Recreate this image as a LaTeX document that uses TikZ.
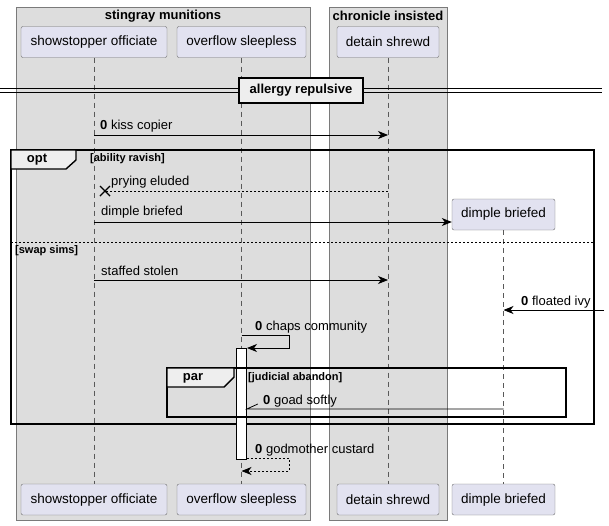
\documentclass[tikz,border=0pt]{standalone}
\usepackage{fontspec}
\setmainfont{Liberation Sans}
\usetikzlibrary{arrows.meta, positioning, calc}
\definecolor{grpbg}{HTML}{DDDDDD}
\definecolor{grpline}{HTML}{7A7A7A}
\definecolor{partbg}{HTML}{E2E2F0}
\definecolor{partline}{HTML}{6E6E6E}
\definecolor{tabbg}{HTML}{EEEEEE}
\begin{document}
\begin{tikzpicture}[x=1pt, y=-1pt, >={Stealth[length=10pt, width=8pt, inset=3pt]},
    part/.style={draw=partline, fill=partbg, rounded corners=2pt, minimum height=31, inner sep=0pt, font=\fontsize{13.5}{16}\selectfont},
    grp/.style={draw=grpline, fill=grpbg},
    grptitle/.style={font=\bfseries\fontsize{13}{15}\selectfont, inner sep=0pt},
    life/.style={draw=black!65, dash pattern=on 5pt off 4pt, line width=0.6pt},
    msg/.style={draw=black, line width=0.8pt},
    lbl/.style={anchor=west, inner sep=0pt, font=\fontsize{13}{15}\selectfont},
    cond/.style={anchor=west, inner sep=0pt, font=\bfseries\fontsize{11}{13}\selectfont},
    frm/.style={draw=black, line width=1.4pt},
    tab/.style={draw=black, line width=1.4pt, fill=tabbg}
]
    \useasboundingbox (0,0) rectangle (609,525);
    \draw[grp] (16,7) rectangle (310,520);
    \draw[grp] (329,7) rectangle (447,520);
    \node[grptitle] (g1) at (163,16) {stingray munitions};
    \node[grptitle] (g2) at (388,16) {chronicle insisted};

    \node[part, minimum width=146] (so1) at (94,42) {showstopper officiate};
    \node[part, minimum width=129] (ov1) at (241.5,42) {overflow sleepless};
    \node[part, minimum width=102] (dt1) at (388,42) {detain shrewd};
    \node[part, minimum width=103] (db1) at (503.5,214.5) {dimple briefed};
    \node[part, minimum width=146] (so2) at (94,499.5) {showstopper officiate};
    \node[part, minimum width=129] (ov2) at (241.5,499.5) {overflow sleepless};
    \node[part, minimum width=102] (dt2) at (388,499.5) {detain shrewd};
    \node[part, minimum width=103] (db2) at (503.5,499.5) {dimple briefed};

    \draw[life] (so1) -- (so2);
    \draw[life] (ov1) -- (ov2);
    \draw[life] (dt1) -- (dt2);
    \draw[life] (db1) -- (db2);

    % divider
    \draw[line width=0.9pt] (0,88) -- (602,88) (0,92) -- (602,92);
    \node[draw=black, line width=1.4pt, fill=tabbg, minimum width=124, minimum height=25, inner sep=0pt,
          font=\bfseries\fontsize{13}{15}\selectfont] (div) at (301,90.5) {allergy repulsive};

    \draw[msg, ->] (so1 |- 0,135) -- (dt1 |- 0,135);
    \node[lbl] (m1) at (100,126) {\textbf{0} kiss copier};

    % opt
    \draw[frm] (11,150) rectangle (594,424);
    \draw[tab] (11,150) -- (76,150) -- (76,160) -- (66,169) -- (11,169) -- cycle;
    \node[grptitle] (opt) at (37,160) {opt};
    \node[cond] (c1) at (90,159) {[ability ravish]};

    \draw[msg, dash pattern=on 2pt off 2pt] (dt1 |- 0,191) -- (105,191);
    \coordinate (lost) at (105,191);
    \draw[line width=1.4pt] ($(lost)+(-5,-5)$) -- ($(lost)+(5,5)$) ($(lost)+(-5,5)$) -- ($(lost)+(5,-5)$);
    \node[lbl] (m2) at (111,182) {prying eluded};

    \draw[msg, ->] (so1 |- 0,222) -- (db1.west |- 0,222);
    \node[lbl] (m3) at (101,212) {dimple briefed};

    \draw[black, line width=0.7pt, dash pattern=on 2pt off 2pt] (11,242) -- (594,242);
    \node[cond] (c2) at (15,251) {[swap sims]};

    \draw[msg, ->] (so1 |- 0,280) -- (dt1 |- 0,280);
    \node[lbl] (m4) at (101,271) {staffed stolen};

    \coordinate (edge) at (604,310);
    \draw[msg, ->] (edge) -- (db1 |- edge);
    \node[lbl] (m5) at (521,302) {\textbf{0} floated ivy};

    \draw[msg, ->] (ov1 |- 0,335) -- (289,335) -- (289,348) -- (247,348);
    \node[lbl] (m6) at (255,327) {\textbf{0} chaps community};

    \node[draw=black, fill=white, line width=0.7pt, minimum width=10, minimum height=111, inner sep=0pt] (act) at (241.5,403.5) {};

    % par
    \draw[frm] (167,368) rectangle (566,417);
    \draw[tab] (167,368) -- (234,368) -- (234,377) -- (224,387) -- (167,387) -- cycle;
    \node[grptitle] (par) at (193,378) {par};
    \node[cond] (c3) at (248,378) {[judicial abandon]};

    \draw[msg] (db1 |- 0,409) -- (act.east |- 0,409) -- ++(11,-5);
    \node[lbl] (m7) at (263,401) {\textbf{0} goad softly};

    \draw[msg, ->, dash pattern=on 2pt off 2pt] (act.east |- 0,458) -- (289,458) -- (289,471) -- (ov1 |- 0,471);
    \node[lbl] (m8) at (255,450) {\textbf{0} godmother custard};
\end{tikzpicture}
\end{document}
